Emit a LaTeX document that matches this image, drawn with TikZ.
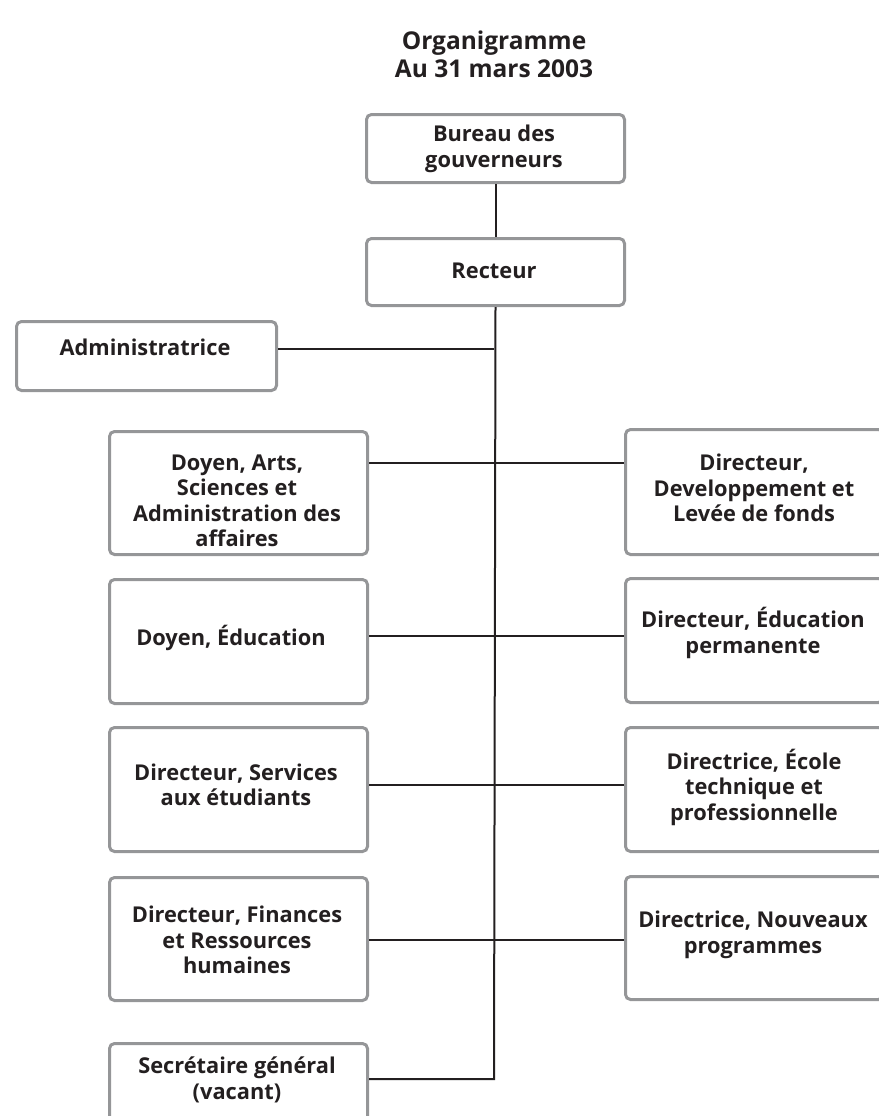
\documentclass[tikz,border=0pt]{standalone}
\usepackage{fontspec}
\setmainfont{Open Sans}
\definecolor{boxgray}{HTML}{959698}
\definecolor{ink}{HTML}{231F20}
\begin{document}
\begin{tikzpicture}[x=1pt,y=-1pt,
  box/.style={draw=boxgray, line width=3pt, rounded corners=5pt, anchor=north west, inner sep=0pt},
  lbl/.style={align=center, text=ink, font=\fontsize{21.8}{25.5}\selectfont\bfseries, inner sep=0pt},
  ttl/.style={align=center, text=ink, font=\fontsize{24.5}{28}\selectfont\bfseries, inner sep=0pt},
  conn/.style={draw=ink, line width=2pt}]
\useasboundingbox (0,0) rectangle (878,1116);
\node[ttl] (title) at (494,54) {Organigramme\\Au 31 mars 2003};
% boxes
\node[box, minimum width=258pt, minimum height=68pt] (bur) at (365,113) {};
\node[box, minimum width=258pt, minimum height=67pt] (rec) at (365,237) {};
\node[box, minimum width=260pt, minimum height=69pt] (adm) at (15,320) {};
\node[box, minimum width=258pt, minimum height=123pt] (l1) at (108,430) {};
\node[box, minimum width=258pt, minimum height=124pt] (l2) at (108,578) {};
\node[box, minimum width=258pt, minimum height=124pt] (l3) at (108,726) {};
\node[box, minimum width=258pt, minimum height=123pt] (l4) at (108,876) {};
\node[box, minimum width=258pt, minimum height=120pt] (l5) at (108,1042) {};
\node[box, minimum width=258pt, minimum height=125pt] (r1) at (624,428) {};
\node[box, minimum width=258pt, minimum height=124pt] (r2) at (624,577) {};
\node[box, minimum width=258pt, minimum height=124pt] (r3) at (624,726) {};
\node[box, minimum width=258pt, minimum height=123pt] (r4) at (624,875) {};
% texts
\node[lbl] (tbur) at (494,149) {Bureau des\\gouverneurs};
\node[lbl] (trec) at (494,271) {Recteur};
\node[lbl] (tadm) at (145,347) {Administratrice};
\node[lbl] (tl1) at (237,501) {Doyen, Arts,\\Sciences et\\Administration des\\affaires};
\node[lbl] (tl2) at (231,638) {Doyen, Éducation};
\node[lbl] (tl3) at (236,785) {Directeur, Services\\aux étudiants};
\node[lbl] (tl4) at (237,940) {Directeur, Finances\\et Ressources\\humaines};
\node[lbl] (tl5) at (237,1080) {Secrétaire général\\(vacant)};
\node[lbl] (tr1) at (754,488) {Directeur,\\Developpement et\\Levée de fonds};
\node[lbl] (tr2) at (753,633) {Directeur, Éducation\\permanente};
\node[lbl] (tr3) at (754,787) {Directrice, École\\technique et\\professionnelle};
\node[lbl] (tr4) at (753,935) {Directrice, Nouveaux\\programmes};
% junctions on the trunk
\coordinate (j0) at (494,349);
\coordinate (j1) at (494,463);
\coordinate (j2) at (494,636);
\coordinate (j3) at (494,785);
\coordinate (j4) at (494,940);
\coordinate (j5) at (494,1079);
% connectors
\draw[conn] (bur.south) -- (rec.north);
\draw[conn] (rec.south) -- (j5) -- (j5 -| l5.east);
\draw[conn] (j0 -| adm.east) -- (j0);
\draw[conn] (j1 -| l1.east) -- (j1 -| r1.west);
\draw[conn] (j2 -| l2.east) -- (j2 -| r2.west);
\draw[conn] (j3 -| l3.east) -- (j3 -| r3.west);
\draw[conn] (j4 -| l4.east) -- (j4 -| r4.west);
\end{tikzpicture}
\end{document}
